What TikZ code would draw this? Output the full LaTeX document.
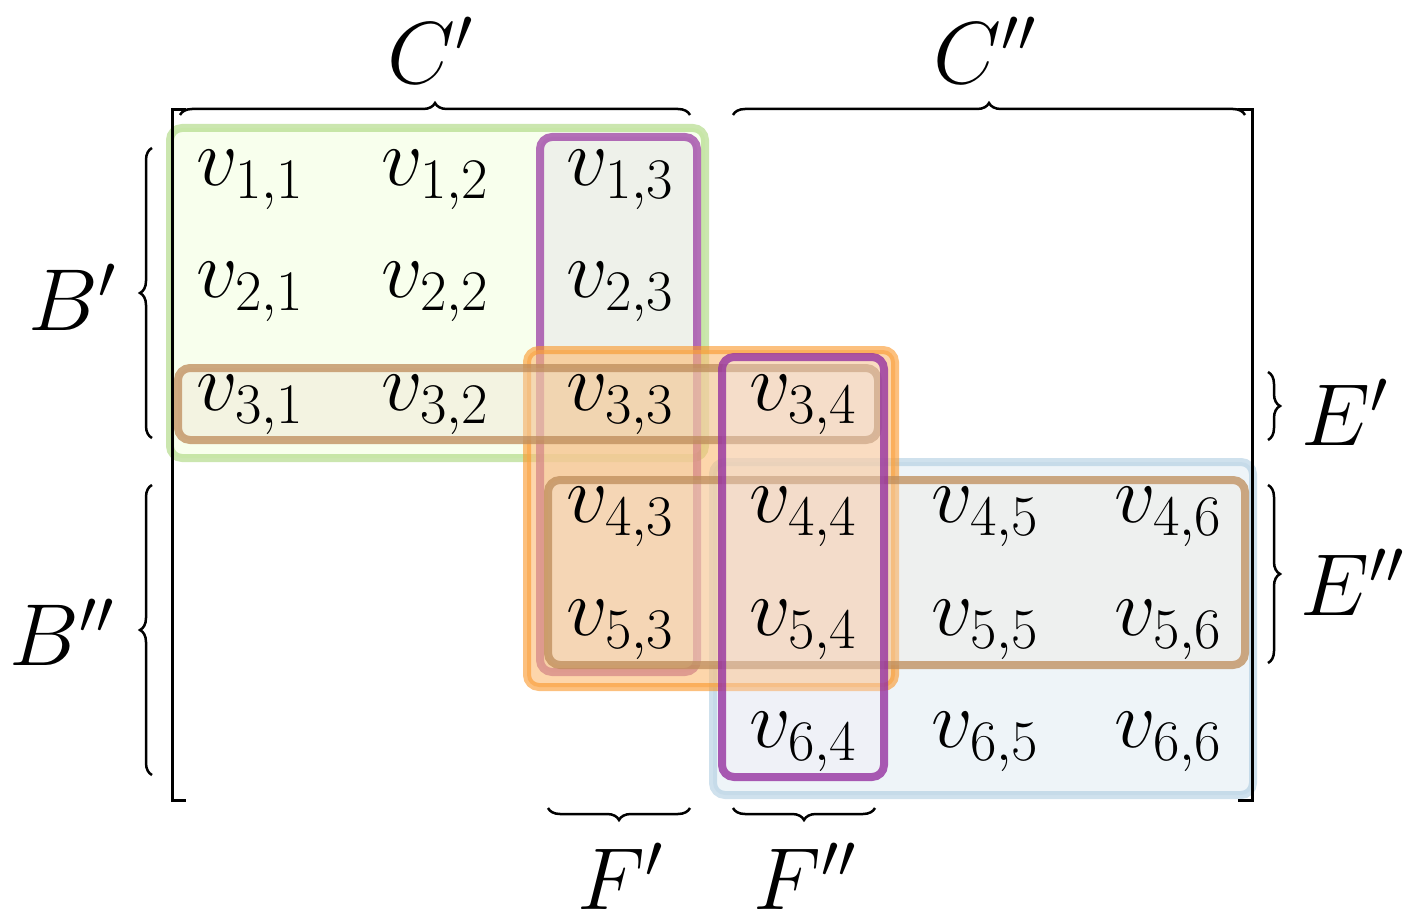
\RequirePackage{fix-cm}
\documentclass[tikz,border=0pt]{standalone}
\usetikzlibrary{decorations.pathreplacing}
\begin{document}
\begin{tikzpicture}[x=1pt,y=-1pt,
  hl/.style={rounded corners=12pt,line width=8pt},
  br/.style={decorate,decoration={brace,amplitude=12pt},line width=2.5pt},
  lab/.style={font=\fontsize{88}{100}\selectfont,inner sep=0pt},
  ent/.style={font=\fontsize{82}{94}\selectfont,inner sep=0pt}]
\useasboundingbox (0,0) rectangle (1419,917);
\definecolor{gr}{RGB}{160,210,110}
\definecolor{pu}{RGB}{150,50,160}
\definecolor{og}{RGB}{250,150,40}
\definecolor{bn}{RGB}{190,140,90}
\definecolor{bl}{RGB}{160,195,220}
% highlights
\draw[hl,draw=gr,opacity=0.55,fill=green!40!yellow,fill opacity=0.07] (170,128) rectangle (705,458);
\draw[hl,draw=bl,opacity=0.5,fill=bl!30,fill opacity=0.6] (713,462) rectangle (1253,795);
\draw[hl,draw=pu,opacity=0.7,fill=gray!18,fill opacity=0.6] (540,137) rectangle (697,672);
\draw[hl,draw=og,opacity=0.6,fill=og!65,fill opacity=0.6] (527,350) rectangle (895,687);
\draw[hl,draw=bn,opacity=0.75,fill=bn!30,fill opacity=0.35] (178,368) rectangle (878,440);
\draw[hl,draw=bn,opacity=0.75,fill=bn!22,fill opacity=0.3] (548,480) rectangle (1245,665);
\draw[hl,draw=pu,opacity=0.8,fill=pu!10,fill opacity=0.3] (722,357) rectangle (884,777);
% entries
\foreach \r/\c/\x/\y in {1/1/250/180,1/2/435/180,1/3/620/180,
  2/1/250/292,2/2/435/292,2/3/620/292,
  3/1/250/405,3/2/435/405,3/3/620/405,3/4/803/405,
  4/3/620/517,4/4/803/517,4/5/985/517,4/6/1168/517,
  5/3/620/630,5/4/803/630,5/5/985/630,5/6/1168/630,
  6/4/803/742,6/5/985/742,6/6/1168/742}
  \node[ent] (v\r\c) at (\x,\y) {$v_{\r,\c}$};
% matrix brackets
\draw[line width=3pt] (186,110) -- (172,110) -- (172,800) -- (186,800);
\draw[line width=3pt] (1238,110) -- (1252,110) -- (1252,800) -- (1238,800);
% braces
\node[lab] (Cp) at (430,50) {$C'$};
\node[lab] (Cpp) at (985,50) {$C''$};
\node[lab] (Bp) at (72,297) {$B'$};
\node[lab] (Bpp) at (62,632) {$B''$};
\node[lab] (Ep) at (1345,412) {$E'$};
\node[lab] (Epp) at (1352,582) {$E''$};
\node[lab] (Fp) at (620,876) {$F'$};
\node[lab] (Fpp) at (805,876) {$F''$};
\coordinate (c1a) at (180,115); \coordinate (c1b) at (690,115);
\draw[br] (c1a) -- (c1b);
\coordinate (c2a) at (733,115); \coordinate (c2b) at (1245,115);
\draw[br] (c2a) -- (c2b);
\coordinate (b1a) at (152,438); \coordinate (b1b) at (152,148);
\draw[br] (b1a) -- (b1b);
\coordinate (b2a) at (152,775); \coordinate (b2b) at (152,485);
\draw[br] (b2a) -- (b2b);
\coordinate (e1a) at (1268,372); \coordinate (e1b) at (1268,440);
\draw[br] (e1a) -- (e1b);
\coordinate (e2a) at (1268,485); \coordinate (e2b) at (1268,663);
\draw[br] (e2a) -- (e2b);
\coordinate (f1a) at (690,808); \coordinate (f1b) at (548,808);
\draw[br] (f1a) -- (f1b);
\coordinate (f2a) at (875,808); \coordinate (f2b) at (733,808);
\draw[br] (f2a) -- (f2b);
\end{tikzpicture}
\end{document}
